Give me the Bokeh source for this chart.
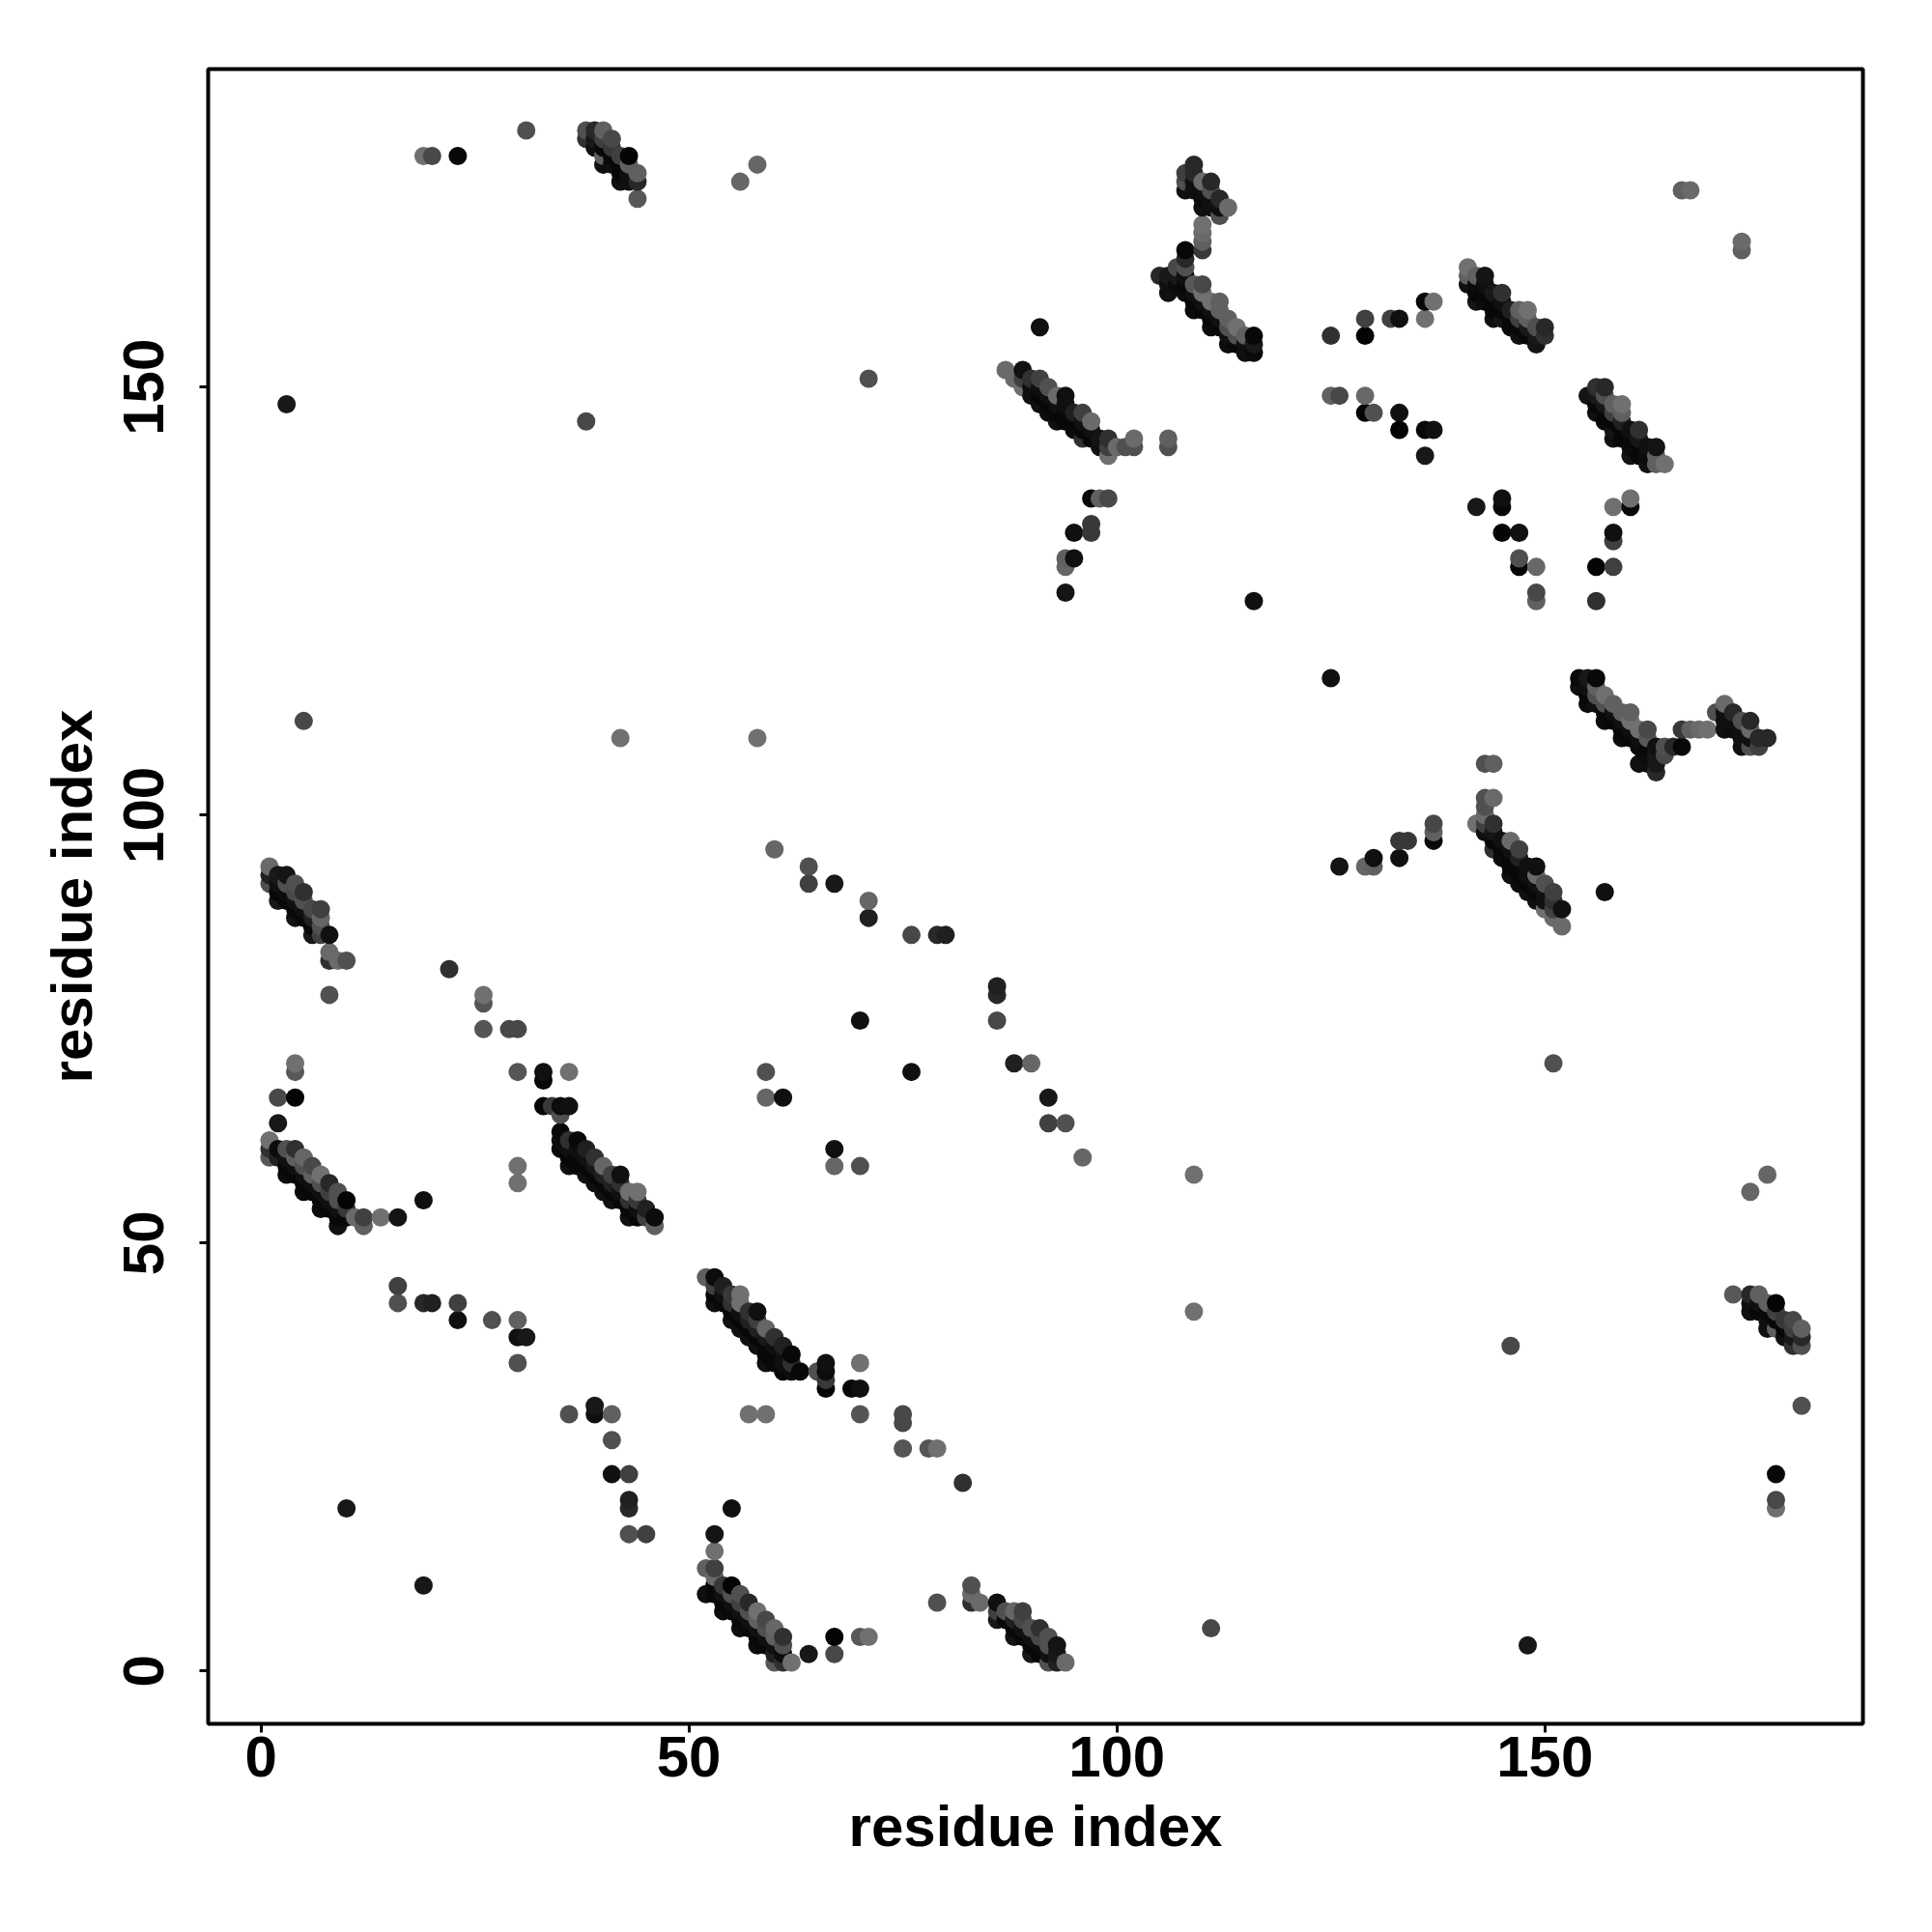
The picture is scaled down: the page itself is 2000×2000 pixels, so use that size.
from bokeh.plotting import figure
from bokeh.models import Range1d, FixedTicker, ColumnDataSource
from bokeh.embed import file_html
from bokeh.resources import INLINE

tick_values = [0, 50, 100, 150]
axis_title = "residue index"

# contacts (i, j, grey level); the map is symmetric, so each is listed once with i < j
sheet_h = [(1,94,0x6a),(1,93,0x20),(1,92,0x50),(2,93,0x18),(2,92,0x10),(2,91,0x08),(2,90,0x18),
 (3,93,0x14),(3,92,0x50),(3,91,0x0c),(3,90,0x08),(4,92,0x50),(4,91,0x48),(4,90,0x10),(4,89,0x08),(4,88,0x14),
 (5,91,0x30),(5,90,0x50),(5,89,0x10),(5,88,0x08),(6,89,0x48),(6,88,0x20),(6,87,0x08),(6,86,0x18),
 (7,89,0x40),(7,88,0x66),(7,87,0x50),(7,86,0x40),(8,86,0x10),(8,84,0x6a),(8,83,0x30),(8,79,0x50),(9,83,0x6a),(10,83,0x50)]
sheet_i = [(1,62,0x70),(1,61,0x30),(1,60,0x58),(2,67,0x48),(2,64,0x18),(2,61,0x0c),(2,60,0x20),
 (3,61,0x50),(3,60,0x10),(3,59,0x08),(3,58,0x0c),(4,71,0x70),(4,70,0x58),(4,67,0x04),(4,61,0x30),(4,60,0x60),(4,59,0x10),(4,58,0x08),
 (5,60,0x66),(5,59,0x50),(5,58,0x10),(5,57,0x08),(5,56,0x0c),(6,59,0x48),(6,58,0x60),(6,57,0x10),(6,56,0x08),
 (7,58,0x70),(7,57,0x50),(7,56,0x10),(7,55,0x08),(7,54,0x0c),(8,57,0x28),(8,56,0x40),(8,55,0x10),(8,54,0x08),
 (9,56,0x50),(9,55,0x50),(9,54,0x10),(9,53,0x08),(9,52,0x10),(10,55,0x04),(10,54,0x38),(10,53,0x08),
 (11,53,0x6a),(12,53,0x40),(12,52,0x60),(14,53,0x70),(16,53,0x14),(19,55,0x10)]
sheet_j = [(33,70,0x10),(33,69,0x08),(33,66,0x04),(34,66,0x38),(35,66,0x0c),(35,65,0x50),(36,70,0x70),(36,66,0x10),
 (35,63,0x08),(35,62,0x0c),(35,61,0x08),(36,62,0x30),(36,61,0x10),(36,60,0x08),(36,59,0x10),
 (37,62,0x08),(37,61,0x10),(37,60,0x08),(37,59,0x08),(38,61,0x20),(38,60,0x10),(38,59,0x08),(38,58,0x10),
 (39,60,0x30),(39,59,0x18),(39,58,0x08),(39,57,0x10),(40,59,0x66),(40,58,0x20),(40,57,0x08),(40,56,0x10),
 (41,58,0x40),(41,57,0x20),(41,56,0x08),(41,55,0x10),(42,58,0x10),(42,57,0x30),(42,56,0x10),(42,55,0x08),
 (43,56,0x70),(43,55,0x30),(43,54,0x08),(43,53,0x10),(44,56,0x70),(44,55,0x38),(44,54,0x10),(44,53,0x08),
 (45,54,0x20),(45,53,0x40),(46,53,0x0c),(46,52,0x60)]
sheet_k = [(16,45,0x40),(16,43,0x50),(19,43,0x28),(20,43,0x20),(23,43,0x40),(23,41,0x10),(27,41,0x50),
 (30,41,0x60),(30,39,0x10),(31,39,0x18),(30,36,0x50),(10,19,0x18),(26,79,0x70),(26,78,0x55),(26,75,0x55),
 (29,75,0x48),(30,75,0x48),(30,70,0x55),(30,59,0x70),(30,57,0x70),(22,82,0x30)]
lone = [(3,148,0x18),(5,111,0x48),(38,146,0x48),(42,109,0x70),(58,109,0x70),(71,151,0x50),(91,157,0x10),
 (116,125,0x10),(59,70,0x50),(59,67,0x66),(61,67,0x10),(67,61,0x10) ,(70,76,0x10),(60,96,0x66),
 (64,94,0x50),(64,92,0x40),(67,92,0x18),(71,90,0x66),(71,88,0x20),(76,86,0x48),(79,86,0x28),(80,86,0x20),
 (19,177,0x70),(20,177,0x48),(23,177,0x08),(31,180,0x50),(56,174,0x66),(58,176,0x66),(166,173,0x60),(167,173,0x6a)]
sheet_a = [(38,180,0x50),(38,179,0x30),(39,180,0x28),(39,179,0x18),(39,178,0x10),
 (40,180,0x60),(40,179,0x40),(40,178,0x08),(40,177,0x60),(40,176,0x10),(41,179,0x48),(41,178,0x38),(41,177,0x08),(41,176,0x10),
 (42,177,0x40),(42,176,0x08),(42,175,0x08),(42,174,0x10),(43,177,0x04),(43,176,0x60),(43,175,0x10),(43,174,0x10),
 (44,175,0x60),(44,174,0x28),(44,172,0x58)]
sheet_b = [(105,163,0x28),(106,163,0x18),(106,162,0x10),(106,161,0x10),(107,164,0x48),(107,163,0x18),(107,162,0x0c),
 (108,175,0x40),(108,174,0x50),(108,173,0x10),(108,166,0x08),(108,165,0x28),(108,164,0x50),(108,163,0x10),(108,162,0x08),(108,161,0x0c),
 (109,176,0x28),(109,175,0x28),(109,174,0x10),(109,173,0x10),(109,162,0x58),(109,161,0x10),(109,160,0x08),(109,159,0x0c),
 (110,174,0x6a),(110,173,0x10),(110,172,0x0c),(110,171,0x10),(110,169,0x70),(110,168,0x6a),(110,167,0x60),(110,166,0x38),
 (110,162,0x48),(110,161,0x70),(110,160,0x10),(110,159,0x08),(111,174,0x28),(111,173,0x50),(111,172,0x10),(111,171,0x10),
 (111,160,0x70),(111,159,0x10),(111,158,0x08),(111,157,0x0c),(112,172,0x28),(112,171,0x10),(112,170,0x50),
 (112,160,0x60),(112,159,0x60),(112,158,0x10),(112,157,0x08),(113,171,0x6a),(113,158,0x60),(113,157,0x50),(113,156,0x10),(113,155,0x0c),
 (114,157,0x70),(114,156,0x50),(114,155,0x08),(115,156,0x60),(115,155,0x10),(115,154,0x10),(116,156,0x08),(116,155,0x18),(116,154,0x0a)]
sheet_c = [(87,152,0x6a),(88,151,0x6a),(89,152,0x10),(89,151,0x40),(89,150,0x70),(90,151,0x30),(90,150,0x10),(90,149,0x10),
 (91,151,0x40),(91,150,0x10),(91,149,0x08),(91,148,0x10),(92,150,0x50),(92,149,0x10),(92,148,0x08),(92,147,0x0c),
 (93,149,0x6a),(93,148,0x10),(93,147,0x08),(93,146,0x10),(94,149,0x10),(94,148,0x10),(94,147,0x08),(94,146,0x08),
 (95,147,0x20),(95,146,0x08),(95,145,0x0c),(96,147,0x40),(96,146,0x10),(96,145,0x08),(96,144,0x30),
 (97,146,0x6a),(97,145,0x10),(97,144,0x08),(98,144,0x14),(98,143,0x10),(99,144,0x30),(99,143,0x40),(99,142,0x70),
 (100,143,0x6a),(101,143,0x50),(102,144,0x6a),(102,143,0x50),(106,144,0x60),(106,143,0x50),
 (97,137,0x08),(98,137,0x60),(99,137,0x48),(97,134,0x38),(97,133,0x38),(95,133,0x10),(95,130,0x10),(94,130,0x60),(94,129,0x66),(94,126,0x14)]
sheet_d = [(141,164,0x70),(141,163,0x60),(141,162,0x10),(142,163,0x60),(142,162,0x0c),(142,161,0x08),(142,160,0x14),
 (143,163,0x14),(143,162,0x10),(143,161,0x08),(143,160,0x0c),(144,161,0x18),(144,160,0x08),(144,159,0x08),(144,158,0x10),
 (145,161,0x30),(145,160,0x10),(145,159,0x08),(145,158,0x14),(146,159,0x20),(146,158,0x08),(146,157,0x08),
 (147,159,0x60),(147,158,0x40),(147,157,0x08),(147,156,0x10),(148,159,0x70),(148,158,0x60),(148,157,0x18),(148,156,0x08),
 (149,157,0x50),(149,156,0x18),(149,155,0x14),(150,157,0x28),(150,156,0x30)]
far_right = [(142,136,0x18),(137,145,0x10),(136,145,0x08),(133,145,0x04),(133,147,0x10),(130,147,0x50),(129,147,0x04),(129,149,0x68),
 (126,149,0x48),(125,149,0x60),(129,156,0x04),(129,158,0x40),(133,158,0x10),(132,158,0x40),(136,158,0x70),(137,160,0x70),(136,160,0x08),(125,156,0x30)]

groups = [sheet_h, sheet_i, sheet_j, sheet_k, lone, sheet_a, sheet_b, sheet_c, sheet_d, far_right]

seen = {}
for g in groups:
    for i, j, lev in g:
        seen[(i, j)] = lev
        seen[(j, i)] = lev
keys = sorted(seen)
xs = [k[0] for k in keys]
ys = [k[1] for k in keys]
cols = ["#%02x%02x%02x" % (seen[k], seen[k], seen[k]) for k in keys]
src = ColumnDataSource(dict(x=xs, y=ys, c=cols))

FONT = "Liberation Sans"
p = figure(width=1988, height=1989, output_backend="svg", toolbar_location=None,
           x_range=Range1d(-6.16, 187.16), y_range=Range1d(-6.16, 187.16),
           min_border_left=215, min_border_right=60, min_border_top=71, min_border_bottom=205,
           x_axis_label=axis_title, y_axis_label=axis_title)
p.grid.visible = False
p.background_fill_color = "white"
p.border_fill_color = "white"
p.outline_line_color = "black"
p.outline_line_width = 4
p.scatter("x", "y", source=src, marker="circle", size=19, fill_color="c", line_color=None)

for ax in (p.xaxis[0], p.yaxis[0]):
    ax.ticker = FixedTicker(ticks=tick_values)
    ax.axis_line_color = None
    ax.major_tick_line_color = "black"
    ax.major_tick_line_width = 3
    ax.major_tick_in = 0
    ax.major_tick_out = 9
    ax.minor_tick_line_color = None
    ax.major_label_text_font = FONT
    ax.major_label_text_font_style = "bold"
    ax.major_label_text_font_size = "60px"
    ax.major_label_text_color = "black"
    ax.axis_label_text_font = FONT
    ax.axis_label_text_font_style = "bold"
    ax.axis_label_text_font_size = "60px"
    ax.axis_label_text_color = "black"
p.yaxis[0].major_label_orientation = "vertical"
p.xaxis[0].major_label_standoff = 4
p.yaxis[0].major_label_standoff = 37
p.xaxis[0].axis_label_standoff = 15
p.yaxis[0].axis_label_standoff = 18

open("out.html", "w").write(file_html(p, INLINE))
